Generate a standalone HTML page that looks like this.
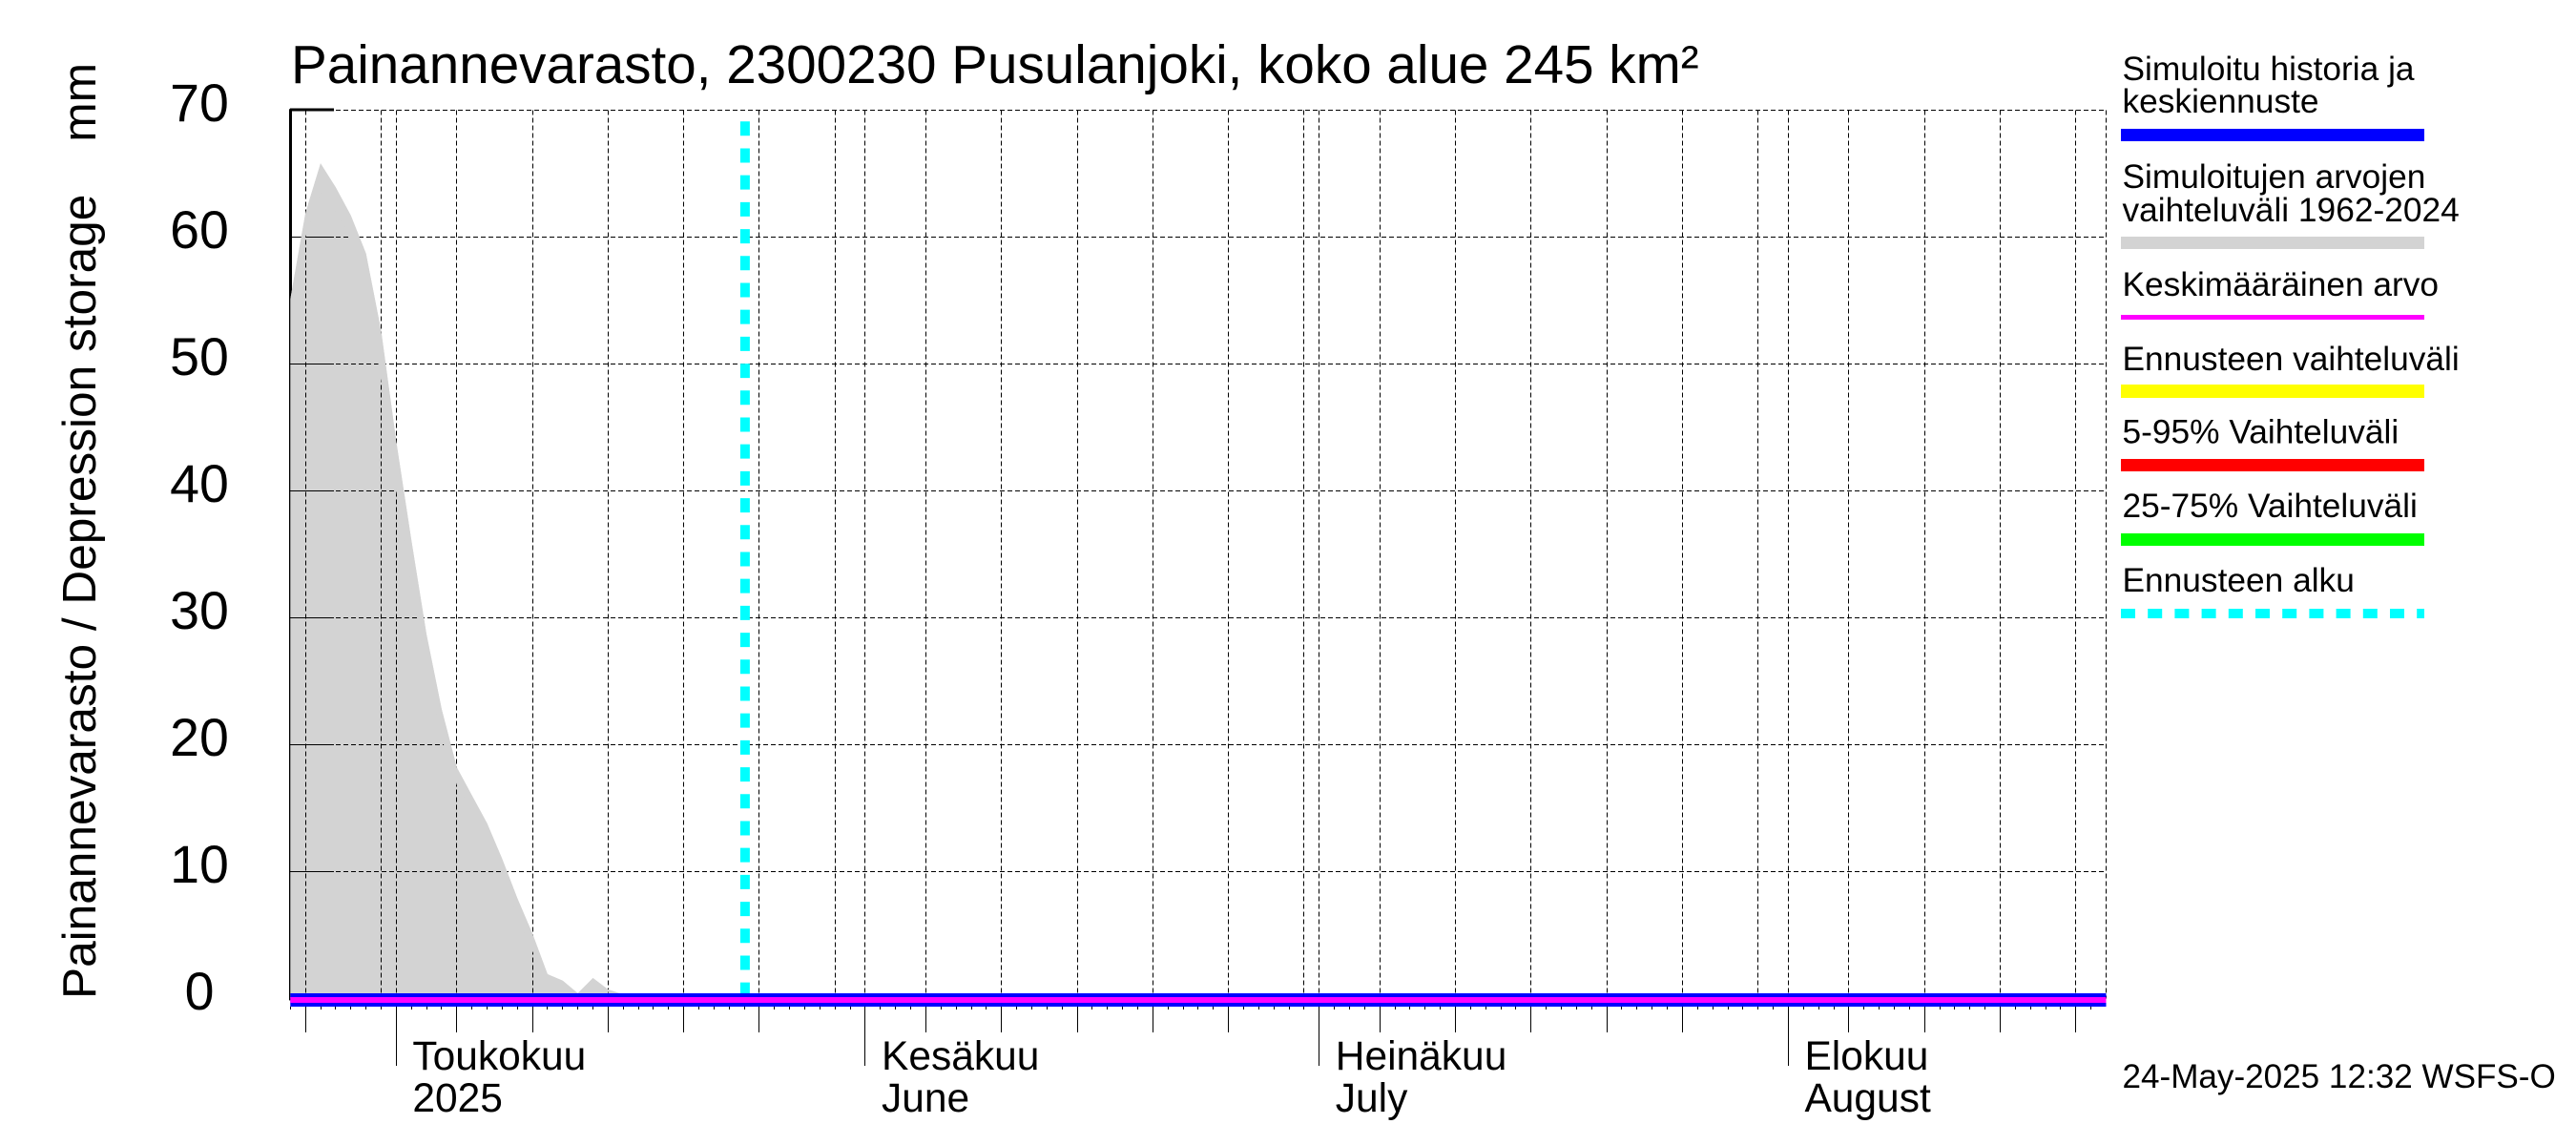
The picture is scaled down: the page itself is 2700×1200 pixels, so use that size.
<!DOCTYPE html>
<html lang="fi">
<head>
<meta charset="utf-8">
<title>Painannevarasto, 2300230 Pusulanjoki</title>
<style>
html,body{margin:0;padding:0;background:#fff;}
svg{display:block;}
text{font-family:"Liberation Sans",Arial,sans-serif;fill:#000;white-space:pre;}
</style>
</head>
<body>
<svg id="chart" xmlns="http://www.w3.org/2000/svg" width="2700" height="1200" viewBox="0 0 2700 1200">
  <rect x="0" y="0" width="2700" height="1200" fill="#fff"/>
  <text x="305" y="87" font-size="56.6">Painannevarasto, 2300230 Pusulanjoki, koko alue 245 km²</text>
  <text transform="translate(100,1047) rotate(-90) scale(1,1.1)" font-size="45" textLength="981" lengthAdjust="spacingAndGlyphs">Painannevarasto / Depression storage    mm</text>
  <g id="plot"></g>
  <g id="legend">
    <g>
      <text x="2224.5" y="84" font-size="35.3">Simuloitu historia ja</text>
      <text x="2224.5" y="118" font-size="35.3">keskiennuste</text>
      <rect x="2223" y="135" width="318" height="13" fill="#0000ff"/>
    </g>
    <g>
      <text x="2224.5" y="197" font-size="35.3">Simuloitujen arvojen</text>
      <text x="2224.5" y="232" font-size="35.3">vaihteluväli 1962-2024</text>
      <rect x="2223" y="248" width="318" height="13" fill="#d3d3d3"/>
    </g>
    <g>
      <text x="2224.5" y="310" font-size="35.3">Keskimääräinen arvo</text>
      <rect x="2223" y="330" width="318" height="5" fill="#ff00ff"/>
    </g>
    <g>
      <text x="2224.5" y="388" font-size="35.3">Ennusteen vaihteluväli</text>
      <rect x="2223" y="403" width="318" height="14" fill="#ffff00"/>
    </g>
    <g>
      <text x="2224.5" y="464.5" font-size="35.3">5-95% Vaihteluväli</text>
      <rect x="2223" y="481" width="318" height="13" fill="#ff0000"/>
    </g>
    <g>
      <text x="2224.5" y="542" font-size="35.3">25-75% Vaihteluväli</text>
      <rect x="2223" y="559" width="318" height="13" fill="#00ff00"/>
    </g>
    <g>
      <text x="2224.5" y="620" font-size="35.3">Ennusteen alku</text>
      <line x1="2223" x2="2541" y1="643" y2="643" stroke="#00ffff" stroke-width="10" stroke-dasharray="15 13.2"/>
    </g>
  </g>
  <text x="2224.5" y="1140" font-size="35.1">24-May-2025 12:32 WSFS-O</text>
</svg>
<script>
// Days are counted from 24 April 2025 (day 0) to 22 August 2025 (day 120).
const simulatedRangeMax = [55.1,61.9,65.8,63.9,61.7,58.7,52.6,43.9,36.1,28.7,22.8,18.2,16.0,13.8,11.0,7.9,5.1,1.9,1.4,0.4,1.6,0.7,0.3,0,0];
const simulatedRangeInner = [55.1,60.0,63.5,62.0,60.0,56.0,48.6,40.0,32.5,26.0,20.5,16.8,14.8,12.4,9.8,6.5,3.7,1.3,1.0,0.3,1.2,0.5,0.2,0,0];
const lineDays = [0,120];
const historyValues = [-0.13,-0.13];
const meanValues = [-0.13,-0.13];
const forecastStartDay = 30.05;
const forecastTopValue = 69.1;
const yTicks = [0,10,20,30,40,50,60,70];
const gridDays = [1,6,7,11,16,21,26,31,36,38,42,47,52,57,62,67,68,72,77,82,87,92,97,99,103,108,113,118,120];
const fiveDayTicks = [1,11,16,21,26,31,42,47,52,57,62,72,77,82,87,92,103,108,113,118];
const monthTicks = [7,38,68,99];
const monthNames = ["Toukokuu","Kesäkuu","Heinäkuu","Elokuu"];
const monthSubNames = ["2025","June","July","August"];
const dayCount = 120;

const NS = "http://www.w3.org/2000/svg";
const plot = document.getElementById("plot");
const xDay = d => 304.3 + 15.86 * d;
const yVal = v => 1046.3 - 13.3 * v;
const snap = p => Math.floor(p) + 0.5;

function make(tag, attrs, parent) {
  const el = document.createElementNS(NS, tag);
  for (const k in attrs) el.setAttribute(k, attrs[k]);
  (parent || plot).appendChild(el);
  return el;
}

// left axis (thick) lies under the gray range
const axisLine = make("rect", {x:303, y:yVal(70)-1, width:3, height:yVal(0)-yVal(70)+3, fill:"#000"});



// simulated range area
const pts = simulatedRangeMax.map((v, i) => xDay(i).toFixed(1) + "," + yVal(v).toFixed(1));
pts.push(xDay(simulatedRangeMax.length - 1).toFixed(1) + "," + yVal(0).toFixed(1));
pts.push(xDay(0).toFixed(1) + "," + yVal(0).toFixed(1));
const area = make("polygon", {points:pts.join(" "), fill:"#d3d3d3"});



// restore the thin part of the axis to the left of the gray area
const axisThin = make("rect", {x:303, y:yVal(55), width:1, height:yVal(0)-yVal(55)+2, fill:"#000"});



// horizontal grid, y ticks and labels
yTicks.forEach(v => {
  const y = snap(yVal(v));
  if (v > 0) {
    const g = make("line", {x1:304, x2:xDay(dayCount)+0.5, y1:y, y2:y, stroke:"#000", "stroke-width":1, "stroke-dasharray":"5 3", "shape-rendering":"crispEdges"});
    
    
    const t = make("rect", {x:304, y:v === 70 ? y-2 : y-0.5, width:46, height:v === 70 ? 3 : 1, fill:"#000"});
    
    
  }
  const label = make("text", {x:209, y:yVal(v)+11.5, "font-size":55.5, "text-anchor":"middle"});
  label.textContent = String(v);
  
  
});

// vertical grid
gridDays.forEach(d => {
  const x = snap(xDay(d));
  const g = make("line", {x1:x, x2:x, y1:yVal(70), y2:yVal(0), stroke:"#000", "stroke-width":1, "stroke-dasharray":"5 3", "shape-rendering":"crispEdges"});
  
  
});

// narrow strip of the range along its upper edge, painted over the grid
const stripPts = simulatedRangeMax.map((v, i) => xDay(i).toFixed(1) + "," + yVal(v).toFixed(1));
for (let i = simulatedRangeInner.length - 1; i >= 0; i--) {
  stripPts.push(xDay(i).toFixed(1) + "," + yVal(simulatedRangeInner[i]).toFixed(1));
}
const strip = make("polygon", {points:stripPts.join(" "), fill:"#d3d3d3"});



// forecast start marker
const fx = xDay(forecastStartDay);
const cyan = make("line", {x1:fx, x2:fx, y1:yVal(forecastTopValue), y2:yVal(0), stroke:"#00ffff", "stroke-width":10, "stroke-dasharray":"15 13.2"});



// history / forecast and mean lines
const blue = make("line", {x1:xDay(lineDays[0]), x2:xDay(lineDays[1]), y1:yVal(historyValues[0]), y2:yVal(historyValues[1]), stroke:"#0000ff", "stroke-width":14});


const magenta = make("line", {x1:xDay(lineDays[0]), x2:xDay(lineDays[1]), y1:yVal(meanValues[0]), y2:yVal(meanValues[1]), stroke:"#ff00ff", "stroke-width":6});



// x-axis ticks
for (let d = 0; d < dayCount; d++) {
  const x = snap(xDay(d));
  const t = make("line", {x1:x, x2:x, y1:1055, y2:1058, stroke:"#000", "stroke-width":1, "shape-rendering":"crispEdges"});
  
  
}
fiveDayTicks.forEach(d => {
  const x = snap(xDay(d));
  const t = make("line", {x1:x, x2:x, y1:1055, y2:1082, stroke:"#000", "stroke-width":1, "shape-rendering":"crispEdges"});
  
  
});
monthTicks.forEach((d, i) => {
  const x = snap(xDay(d));
  const t = make("line", {x1:x, x2:x, y1:1055, y2:1117, stroke:"#000", "stroke-width":1, "shape-rendering":"crispEdges"});
  
  
  const a = make("text", {x:xDay(d)+17, y:1121, "font-size":42.5});
  a.textContent = monthNames[i];
  
  
  const b = make("text", {x:xDay(d)+17, y:1165, "font-size":42.5});
  b.textContent = monthSubNames[i];
  
  
});
</script>
</body>
</html>
